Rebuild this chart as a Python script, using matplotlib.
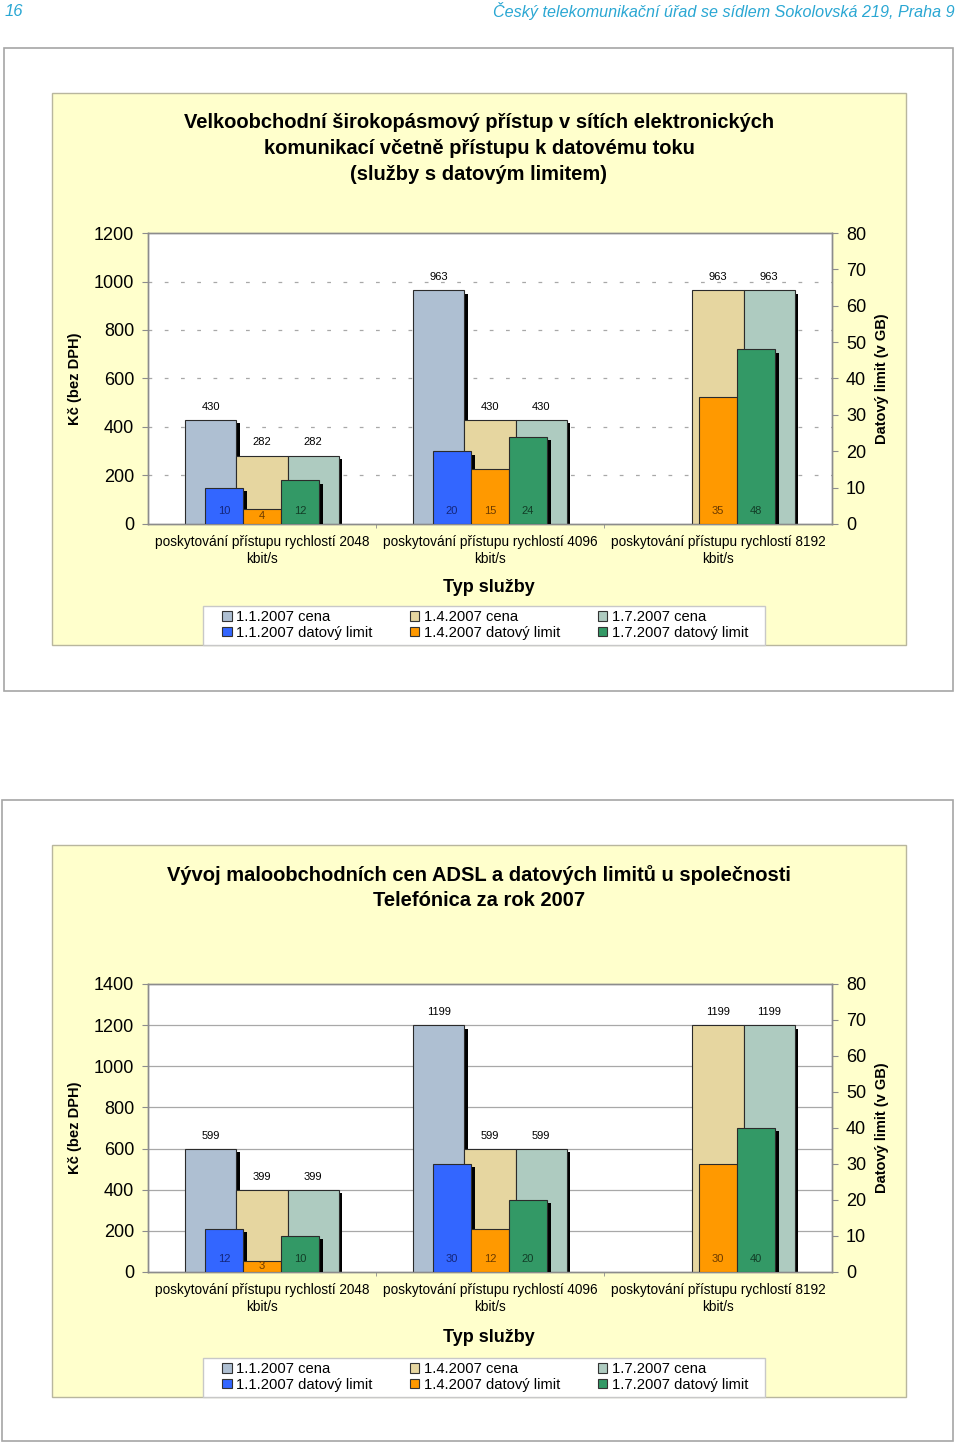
import matplotlib
matplotlib.use("Agg")
import matplotlib.pyplot as plt
import matplotlib.patheffects as pe
from matplotlib.patches import Rectangle, Patch
import numpy as np

plt.rcParams['font.family'] = ['Liberation Sans', 'DejaVu Sans']

W, H = 960, 1443

categories = ["poskytování přístupu rychlostí 2048\nkbit/s",
              "poskytování přístupu rychlostí 4096\nkbit/s",
              "poskytování přístupu rychlostí 8192\nkbit/s"]
dates = ["1.1.2007", "1.4.2007", "1.7.2007"]

# graf 1 - velkoobchod (None = bez hodnoty)
wh_cena_0101 = [430, 963, None]
wh_cena_0104 = [282, 430, 963]
wh_cena_0107 = [282, 430, 963]
wh_limit_0101 = [10, 20, None]
wh_limit_0104 = [4, 15, 35]
wh_limit_0107 = [12, 24, 48]

# graf 2 - Telefónica maloobchod
ret_cena_0101 = [599, 1199, None]
ret_cena_0104 = [399, 599, 1199]
ret_cena_0107 = [399, 599, 1199]
ret_limit_0101 = [12, 30, None]
ret_limit_0104 = [3, 12, 30]
ret_limit_0107 = [10, 20, 40]

cena_colors = ['#aebfd2', '#e6d6a0', '#aecbc0']
limit_colors = ['#3366ff', '#ff9900', '#339966']
limit_text = ['#14267a', '#6b3a00', '#123d27']
yellow = '#ffffcc'
gray = '#8c8c8c'


def fx(x):
    return x / W


def fy(y):
    return 1 - y / H


def fbox(x0, y0, x1, y1):
    return [x0 / W, 1 - y1 / H, (x1 - x0) / W, (y1 - y0) / H]


def frame(fig, x0, y0, x1, y1, face, edge, lw=1.0):
    r = Rectangle((fx(x0), fy(y1)), (x1 - x0) / W, (y1 - y0) / H,
                  transform=fig.transFigure, facecolor=face, edgecolor=edge,
                  linewidth=lw, zorder=0)
    fig.add_artist(r)


def draw_chart(fig, g, title, cena, limity, ymax, dashed):
    frame(fig, *g['outer'], 'white', '#a6a6a6', 1.2)
    frame(fig, *g['yellow'], yellow, '#b8b69e', 1.0)
    for line, ty in zip(title, g['title_y']):
        fig.text(fx(479), fy(ty), line, ha='center', va='center',
                 fontsize=14.5, fontweight='bold')

    ax = fig.add_axes(fbox(*g['plot']))
    ax.set_facecolor('white')
    ax2 = ax.twinx()
    x = np.arange(len(categories))
    cw = 0.224
    lw_ = 0.167
    shadow = [pe.SimplePatchShadow(offset=(2.8, -2.4), shadow_rgbFace='black', alpha=1.0),
              pe.Normal()]

    for i, vals in enumerate(cena):
        xs = [x[j] + (i - 1) * cw for j in range(len(vals)) if vals[j] is not None]
        hs = [v for v in vals if v is not None]
        bars = ax.bar(xs, hs, width=cw, color=cena_colors[i], edgecolor='#2b2b2b',
                      linewidth=0.8, zorder=3)
        for b in bars:
            b.set_path_effects(shadow)
        for xx, v in zip(xs, hs):
            ax.annotate(str(v), (xx, v), xytext=(0, 9.5), textcoords='offset points',
                        ha='center', va='center', fontsize=8, zorder=5)

    for i, vals in enumerate(limity):
        xs = [x[j] + (i - 1) * lw_ for j in range(len(vals)) if vals[j] is not None]
        hs = [v for v in vals if v is not None]
        bars = ax2.bar(xs, hs, width=lw_, color=limit_colors[i], edgecolor='#2b2b2b',
                       linewidth=0.8, zorder=3)
        for b in bars:
            b.set_path_effects(shadow)
        for xx, v in zip(xs, hs):
            ax2.text(xx, min(3.6, v / 2 + 0.2), str(v), ha='center', va='center',
                     fontsize=8, color=limit_text[i], zorder=5)

    ax.set_xlim(-0.5, len(categories) - 0.5)
    ax.set_ylim(0, ymax)
    ax.set_yticks(np.arange(0, ymax + 1, 200))
    ax2.set_ylim(0, 80)
    ax2.set_yticks(np.arange(0, 81, 10))

    grid_vals = np.arange(200, ymax, 200)
    for gv in grid_vals:
        if dashed:
            ax.axhline(gv, color='#a8a8a8', linewidth=0.9, linestyle=(0, (3, 10)), zorder=1)
        else:
            ax.axhline(gv, color='#a8a8a8', linewidth=0.9, zorder=1)

    ax.set_xticks(x)
    ax.set_xticklabels(categories, fontsize=9.8, linespacing=1.25)
    ax.set_xticks([0.5, 1.5], minor=True)
    ax.tick_params(axis='x', which='major', length=0, pad=8)
    ax.tick_params(axis='x', which='minor', length=3, color=gray, direction='out')
    ax.tick_params(axis='y', labelsize=13, length=4, color=gray, pad=6)
    ax2.tick_params(axis='y', labelsize=13, length=4.5, color=gray, pad=5.5)
    for a in (ax, ax2):
        for s in a.spines.values():
            s.set_color(gray)
            s.set_linewidth(1.0)

    px0, py0, px1, py1 = g['plot']
    fig.text(fx(75), fy((py0 + py1) / 2), 'Kč (bez DPH)', rotation=90,
             ha='center', va='center', fontsize=10.5, fontweight='bold')
    fig.text(fx(882), fy((py0 + py1) / 2), 'Datový limit (v GB)', rotation=90,
             ha='center', va='center', fontsize=10.5, fontweight='bold')
    fig.text(fx(489), fy(g['typ_y']), 'Typ služby', ha='center', va='center',
             fontsize=13, fontweight='bold')

    lx0, ly0, lx1, ly1 = g['legend']
    frame(fig, lx0, ly0, lx1, ly1, 'white', '#c8c8c8', 1.0)
    handles = []
    labels = []
    for i, d in enumerate(dates):
        handles.append(Patch(facecolor=cena_colors[i], edgecolor='#333333', linewidth=0.8))
        labels.append(d + ' cena')
        handles.append(Patch(facecolor=limit_colors[i], edgecolor='#333333', linewidth=0.8))
        labels.append(d + ' datový limit')
    fig.legend(handles, labels, ncol=3, loc='upper left',
               bbox_to_anchor=(fx(lx0 + 16), fy(ly0 + 1)), frameon=False,
               fontsize=10.6, handlelength=0.65, handleheight=0.65,
               handletextpad=0.3, columnspacing=2.55, labelspacing=0.12,
               borderpad=0.2, borderaxespad=0)
    return ax, ax2


fig = plt.figure(figsize=(W / 100, H / 100), dpi=100)
fig.patch.set_facecolor('white')

hdr_color = '#2aa7d3'
fig.text(fx(5), fy(11), '16', ha='left', va='center', fontsize=12,
         style='italic', color=hdr_color)
fig.text(fx(955), fy(11), 'Český telekomunikační úřad se sídlem Sokolovská 219, Praha 9',
         ha='right', va='center', fontsize=11.6, style='italic', color=hdr_color)

g1 = dict(outer=(4, 48, 953, 691), yellow=(52, 93, 906, 645), plot=(148, 233, 832, 524),
          title_y=[122, 148, 174], typ_y=588, legend=(203, 606, 765, 645))
g2 = dict(outer=(2, 800, 953, 1441), yellow=(52, 845, 906, 1397), plot=(148, 984, 832, 1272),
          title_y=[875, 900], typ_y=1337, legend=(203, 1358, 765, 1397))

draw_chart(fig, g1,
           ['Velkoobchodní širokopásmový přístup v sítích elektronických',
            'komunikací včetně přístupu k datovému toku',
            '(služby s datovým limitem)'],
           [wh_cena_0101, wh_cena_0104, wh_cena_0107],
           [wh_limit_0101, wh_limit_0104, wh_limit_0107],
           1200, True)

draw_chart(fig, g2,
           ['Vývoj maloobchodních cen ADSL a datových limitů u společnosti',
            'Telefónica za rok 2007'],
           [ret_cena_0101, ret_cena_0104, ret_cena_0107],
           [ret_limit_0101, ret_limit_0104, ret_limit_0107],
           1400, False)

fig.savefig('out.png', dpi=100, facecolor='white')
